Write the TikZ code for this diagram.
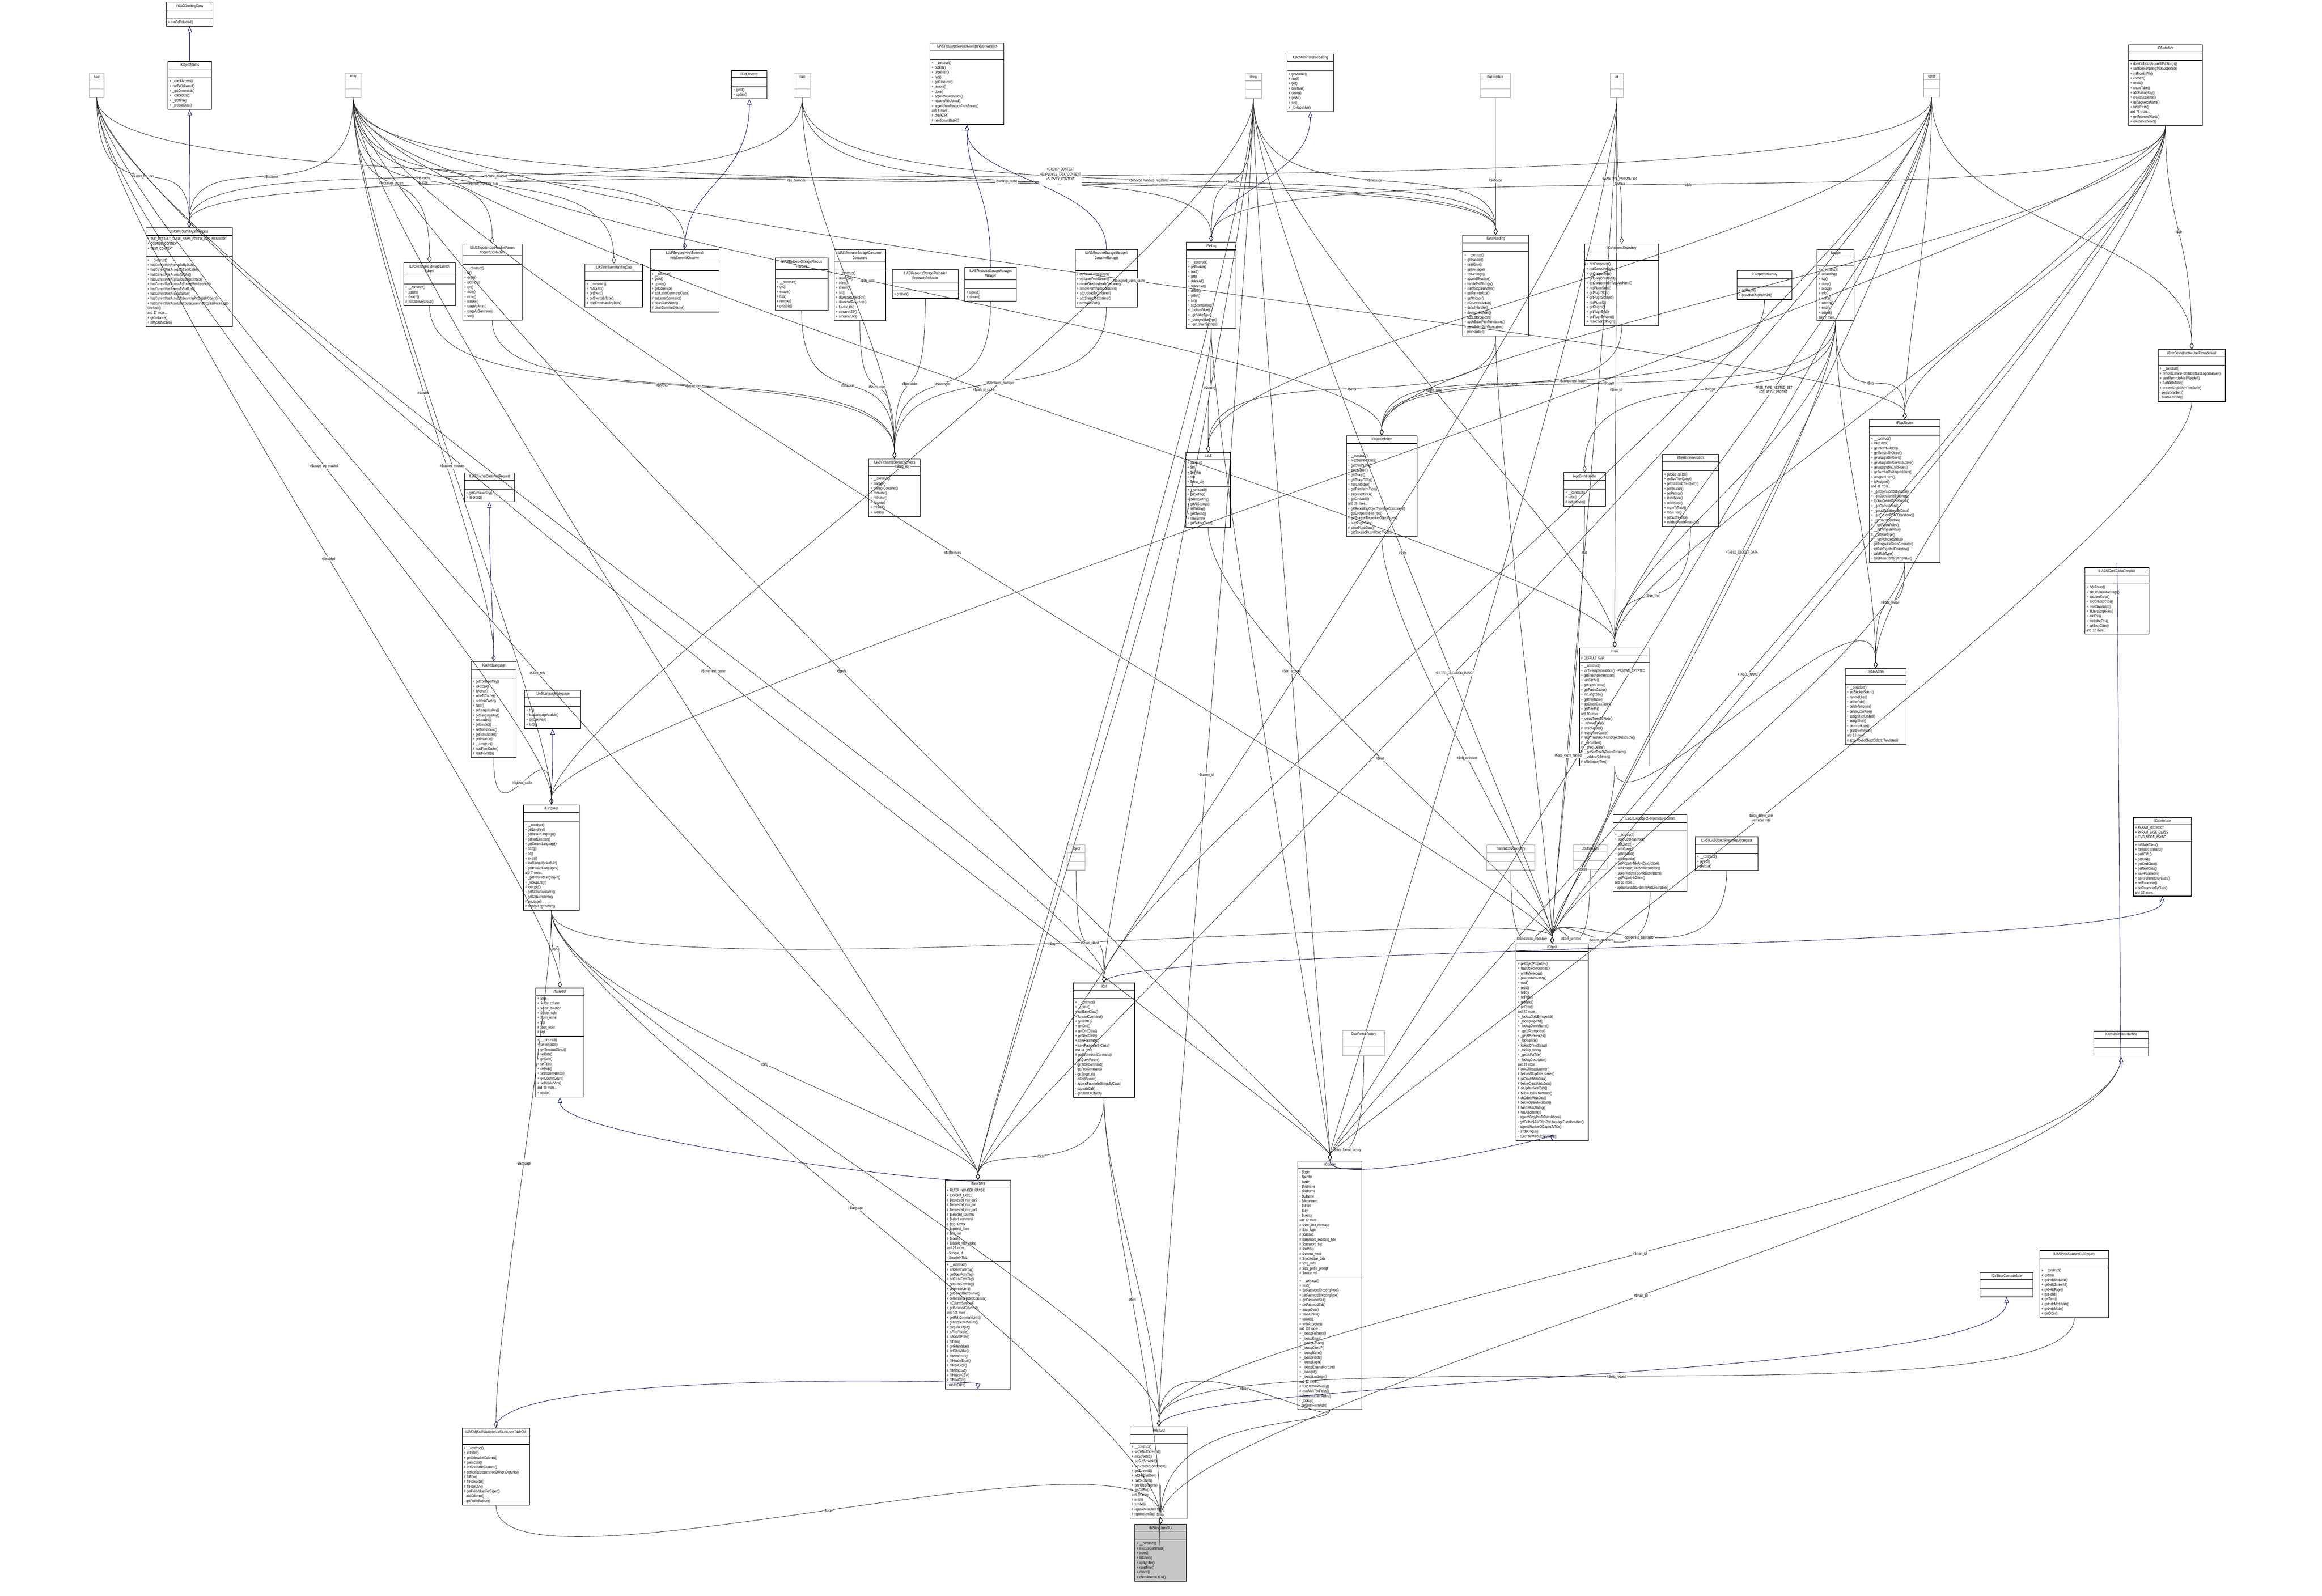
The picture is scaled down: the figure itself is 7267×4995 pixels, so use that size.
\documentclass[tikz,border=0pt]{standalone}
\usepackage{fontspec}
\usetikzlibrary{shapes.multipart,arrows.meta}
\newfontfamily\dxfont{Liberation Sans}[FakeStretch=0.7]
\newcommand\bsl{\textbackslash\allowbreak}

\tikzset{
  cls/.style={rectangle split, rectangle split parts=3, draw, line width=0.5pt,
    anchor=north west, text width=#1, align=left, inner sep=1.5pt,
    font=\dxfont\fontsize{3.6}{4.27}\selectfont},
  typ/.style={cls=#1, draw=gray!60},
  cur/.style={cls=#1, rectangle split part fill={gray!45,gray!45,gray!45}},
  agg/.style={draw=gray!30!black, line width=0.35pt, -{Diamond[open,length=6pt,width=3.5pt]}},
  inh/.style={draw=blue!40!black, line width=0.35pt, -{Triangle[open,length=5pt,width=4pt]}},
  lbl/.style={font=\dxfont\fontsize{3.6}{4.27}\selectfont, align=center, fill=white, inner sep=0.5pt}
}

\begin{document}
\begin{tikzpicture}[x=0.01cm,y=-0.01cm]
\useasboundingbox[fill=white] (0,0) rectangle (7267,4995);

% types on top
\node[typ=0.35cm] (bool) at (279,228) {\centering bool\par \nodepart{two}\strut \nodepart{three}\strut};
\node[typ=0.4cm] (array) at (1079,228) {\centering array\par \nodepart{two}\strut \nodepart{three}\strut};
\node[typ=0.4cm] (static) at (2484,228) {\centering static\par \nodepart{two}\strut \nodepart{three}\strut};
\node[typ=0.4cm] (string) at (3896,228) {\centering string\par \nodepart{two}\strut \nodepart{three}\strut};
\node[typ=0.85cm] (runif) at (4631,228) {\centering RunInterface\par \nodepart{two}\strut \nodepart{three}\strut};
\node[typ=0.3cm] (int) at (5039,228) {\centering int\par \nodepart{two}\strut \nodepart{three}\strut};
\node[typ=0.4cm] (const) at (6019,228) {\centering const\par \nodepart{two}\strut \nodepart{three}\strut};
\node[typ=0.45cm] (object) at (3339,2644) {\centering object\par \nodepart{two}\strut \nodepart{three}\strut};
\node[typ=1.4cm] (transrepo) at (4652,2644) {\centering TranslationsRepository\par \nodepart{two}\strut \nodepart{three}\strut};
\node[typ=0.95cm] (lom) at (4923,2644) {\centering LOMServices\par \nodepart{two}\strut \nodepart{three}\strut};
\node[typ=1.2cm] (datefac) at (4202,3225) {\centering DateFormatFactory\par \nodepart{two}\strut \nodepart{three}\strut};

% classes
\node[cls=1.35cm] (wac) at (520,6) {\centering ilWACCheckingClass\par \nodepart{two}\strut \nodepart{three} + canBeDelivered()};
\node[cls=1.25cm] (objacc) at (525,191) {\centering ilObjectAccess\par \nodepart{two}\strut \nodepart{three}
 + \_checkAccess()\\ + canBeDelivered()\\ + \_getCommands()\\ + \_checkGoto()\\ + \_isOffline()\\ + \_preloadData()};
\node[cls=1.0cm] (ctrlobs) at (2289,220) {\centering ilCtrlObserver\par \nodepart{two}\strut \nodepart{three} + getId()\\ + update()};
\node[cls=2.2cm] (basemgr) at (2910,133) {\centering ILIAS\bsl ResourceStorage\bsl Manager\bsl BaseManager\par \nodepart{two}\strut \nodepart{three}
 + \_\_construct()\\ + publish()\\ + unpublish()\\ + find()\\ + getResource()\\ + remove()\\ + clone()\\ + appendNewRevision()\\ + replaceWithUpload()\\ + appendNewRevisionFromStream()\\ and 8 more...\\ \# checkZIP()\\ \# newStreamBased()};
\node[cls=1.35cm] (admset) at (4027,168) {\centering ILIAS\bsl Administration\bsl Setting\par \nodepart{two}\strut \nodepart{three}
 + getModule()\\ + read()\\ + get()\\ + deleteAll()\\ + delete()\\ + getAll()\\ + set()\\ + \_lookupValue()};
\node[cls=2.2cm] (dbif) at (6661,139) {\centering ilDBInterface\par \nodepart{two}\strut \nodepart{three}
 + doesCollationSupportMB4Strings()\\ + sanitizeMB4StringIfNotSupported()\\ + initFromIniFile()\\ + connect()\\ + nextId()\\ + createTable()\\ + addPrimaryKey()\\ + createSequence()\\ + getSequenceName()\\ + tableExists()\\ and 78 more...\\ + getReservedWords()\\ + isReservedWord()};

\node[cls=2.6cm] (mystaff) at (456,712) {\centering ILIAS\bsl MyStaff\bsl ilMyStaffAccess\par \nodepart{two}
 + TMP\_DEFAULT\_TABLE\_NAME\_PREFIX\_CRS\_MEMBERS\\ + COURSE\_CONTEXT\\ + TEST\_CONTEXT\\ ... \nodepart{three}
 + \_\_construct()\\ + hasCurrentUserAccessToMyStaff()\\ + hasCurrentUserAccessToCertificates()\\ + hasCurrentUserAccessToTalks()\\ + hasCurrentUserAccessToCompetences()\\ + hasCurrentUserAccessToCourseMemberships()\\ + hasCurrentUserAccessToStaffList()\\ + hasCurrentUserAccessToUser()\\ + hasCurrentUserAccessToLearningProgressInObject()\\ + hasCurrentUserAccessToCourseLearningProgressForAtLeastOneUser()\\ and 17 more...\\ + getInstance()\\ + isMyStaffActive()};
\node[cls=1.5cm] (evsubj) at (1263,821) {\centering ILIAS\bsl ResourceStorage\bsl Events\bsl Subject\par \nodepart{two}\strut \nodepart{three}
 + \_\_construct()\\ + attach()\\ + detach()\\ \# initObserverGroup()};
\node[cls=1.75cm] (nodecoll) at (1447,763) {\centering ILIAS\bsl Export\bsl ImportHandler\bsl Parser\bsl NodeInfo\bsl Collection\par \nodepart{two}\strut \nodepart{three}
 + \_\_construct()\\ + id()\\ + exists()\\ + idOrNull()\\ + get()\\ + store()\\ + clone()\\ + remove()\\ + rangeAsArray()\\ + rangeAsGenerator()\\ + sort()};
\node[cls=1.7cm] (evdata) at (1830,825) {\centering ILIAS\bsl Init\bsl EventHandlingData\par \nodepart{two}\strut \nodepart{three}
 + \_\_construct()\\ + hasEvent()\\ + getEvent()\\ + getEventsByType()\\ \# readEventHandlingData()};
\node[cls=2.05cm] (helpobs) at (2034,780) {\centering ILIAS\bsl Services\bsl Help\bsl ScreenId\bsl HelpScreenIdObserver\par \nodepart{two}\strut \nodepart{three}
 + \_\_construct()\\ + getId()\\ + update()\\ + getScreenId()\\ \# addLatestCommandClass()\\ \# setLatestCommand()\\ \# cleanClassName()\\ \# cleanCommandName()};
\node[cls=1.55cm] (flav) at (2425,807) {\centering ILIAS\bsl ResourceStorage\bsl Flavour\bsl Flavours\par \nodepart{two}\strut \nodepart{three}
 + \_\_construct()\\ + get()\\ + ensure()\\ + has()\\ + remove()\\ + possible()};
\node[cls=1.5cm] (cons) at (2610,780) {\centering ILIAS\bsl ResourceStorage\bsl Consumer\bsl Consumers\par \nodepart{two}\strut \nodepart{three}
 + \_\_construct()\\ + download()\\ + inline()\\ + stream()\\ + src()\\ + downloadCollection()\\ + downloadResources()\\ + flavourUrls()\\ + containerZIP()\\ + containerURI()};
\node[cls=1.95cm] (prel) at (2792,843) {\centering ILIAS\bsl ResourceStorage\bsl Preloader\bsl RepositoryPreloader\par \nodepart{two}\strut \nodepart{three} + preload()};
\node[cls=1.5cm] (mgr) at (3019,836) {\centering ILIAS\bsl ResourceStorage\bsl Manager\bsl Manager\par \nodepart{two}\strut \nodepart{three} + upload()\\ + stream()};
\node[cls=1.85cm] (contmgr) at (3364,780) {\centering ILIAS\bsl ResourceStorage\bsl Manager\bsl ContainerManager\par \nodepart{two}\strut \nodepart{three}
 + containerFromUpload()\\ + containerFromStream()\\ + createDirectoryInsideContainer()\\ + removePathInsideContainer()\\ + addUploadToContainer()\\ + addStreamToContainer()\\ \# normalizePath()};
\node[cls=1.45cm] (ilset) at (3712,757) {\centering ilSetting\par \nodepart{two}\strut \nodepart{three}
 + \_\_construct()\\ + getModule()\\ + read()\\ + get()\\ + deleteAll()\\ + deleteLike()\\ + delete()\\ + getAll()\\ + set()\\ + setScormDebug()\\ + \_lookupValue()\\ + \_getValueType()\\ + \_changeValueType()\\ + \_getLongerSettings()};
\node[cls=1.95cm] (errh) at (4577,735) {\centering ilErrorHandling\par \nodepart{two}\strut \nodepart{three}
 + \_\_construct()\\ + getHandler()\\ + raiseError()\\ + getMessage()\\ + setMessage()\\ + appendMessage()\\ + handlePreWhoops()\\ + initWhoopsHandlers()\\ + getRunInterface()\\ + getWhoops()\\ + isDevmodeActive()\\ + defaultHandler()\\ + devmodeHandler()\\ + addEditorSupport()\\ + applyEditorPathTranslations()\\ + parseEditorPathTranslation()\\ - errorHandler()};
\node[cls=2.2cm] (comprepo) at (4959,763) {\centering ilComponentRepository\par \nodepart{two}\strut \nodepart{three}
 + hasComponent()\\ + hasComponentId()\\ + getComponents()\\ + getComponentById()\\ + getComponentByTypeAndName()\\ + hasPluginSlotId()\\ + getPluginSlots()\\ + getPluginSlotById()\\ + hasPluginId()\\ + getPlugins()\\ + getPluginById()\\ + getPluginByName()\\ + hasActivatedPlugin()};
\node[cls=1.6cm] (compfac) at (5436,846) {\centering ilComponentFactory\par \nodepart{two}\strut \nodepart{three} + getPlugin()\\ + getActivePluginsInSlot()};
\node[cls=1.05cm] (logger) at (5686,780) {\centering ilLogger\par \nodepart{two}\strut \nodepart{three}
 + \_\_construct()\\ + isHandling()\\ + log()\\ + dump()\\ + debug()\\ + info()\\ + notice()\\ + warning()\\ + error()\\ + critical()\\ and 7 more...};
\node[cls=2.0cm] (crondel) at (6753,1093) {\centering ilCronDeleteInactiveUser\-ReminderMail\par \nodepart{two}\strut \nodepart{three}
 + \_\_construct()\\ + removeEntriesFromTableIfLastLoginIsNewer()\\ + sendReminderMailIfNeeded()\\ + flushDataTable()\\ + removeSingleUserFromTable()\\ - persistMailSent()\\ - sendReminder()};

\node[cls=1.45cm] (request) at (1453,1479) {\centering ILIAS\bsl Cache\bsl Container\bsl Request\par \nodepart{two}\strut \nodepart{three} + getContainerKey()\\ + isForced()};
\node[cls=1.5cm] (services) at (2718,1435) {\centering ILIAS\bsl ResourceStorage\bsl Services\par \nodepart{two}\strut \nodepart{three}
 + \_\_construct()\\ + manage()\\ + manageContainer()\\ + consume()\\ + collection()\\ + flavours()\\ + preload()\\ + events()};
\node[cls=1.3cm] (ilias) at (3710,1415) {\centering ILIAS\par \nodepart{two} + \$account\\ + \$ini\\ + \$ini\_ilias\\ + \$db\\ + \$error\_obj \nodepart{three}
 + \_\_construct()\\ + getSetting()\\ + deleteSetting()\\ + getAllSettings()\\ + setSetting()\\ + getClientId()\\ + raiseError()\\ + getSettingObject()};
\node[cls=2.1cm] (objdef) at (4213,1363) {\centering ilObjectDefinition\par \nodepart{two}\strut \nodepart{three}
 + \_\_construct()\\ + readDefinitionData()\\ + getClassName()\\ + getLocation()\\ + getGroup()\\ + getGroupOfObj()\\ + hasCheckbox()\\ + getTranslationType()\\ + stopInheritance()\\ + getDevMode()\\ and 39 more...\\ + getRepositoryObjectTypesForComponent()\\ + getComponentForType()\\ + getGroupedRepositoryObjectTypes()\\ + readPluginData()\\ \# parsePluginData()\\ + getGroupedPluginObjectTypes()};
\node[cls=1.2cm] (appev) at (4893,1478) {\centering ilAppEventHandler\par \nodepart{two}\strut \nodepart{three} + \_\_construct()\\ + raise()\\ \# initListeners()};
\node[cls=1.65cm] (treeimpl) at (5202,1421) {\centering ilTreeImplementation\par \nodepart{two}\strut \nodepart{three}
 + getSubTreeIds()\\ + getSubTreeQuery()\\ + getTrashSubTreeQuery()\\ + getRelation()\\ + getPathIds()\\ + insertNode()\\ + deleteTree()\\ + moveToTrash()\\ + moveTree()\\ + getSubtreeInfo()\\ + validateParentRelations()};
\node[cls=2.1cm] (rbacrev) at (5850,1312) {\centering ilRbacReview\par \nodepart{two}\strut \nodepart{three}
 + \_\_construct()\\ + roleExists()\\ + getParentRoleIds()\\ + getRoleListByObject()\\ + getAssignableRoles()\\ + getAssignableRolesInSubtree()\\ + getAssignableChildRoles()\\ + getNumberOfAssignedUsers()\\ + assignedUsers()\\ + isAssigned()\\ and 41 more...\\ + \_getOperationIdsByName()\\ + \_getOperationIdByName()\\ + lookupCreateOperationIds()\\ + \_getOperationList()\\ + \_groupOperationsByClass()\\ + \_getCustomRBACOperationId()\\ + \_isRBACOperation()\\ \# \_\_getParentRoles()\\ \# \_\_setTemplateFilter()\\ \# \_\_setRoleType()\\ \# \_\_setProtectedStatus()\\ - getAssignableRolesGenerator()\\ - setRoleTypeAndProtection()\\ - buildRoleType()\\ - buildProtectionByStringValue()};
\node[cls=1.9cm] (globtpl) at (6524,1775) {\centering ILIAS\bsl UICore\bsl GlobalTemplate\par \nodepart{two}\strut \nodepart{three}
 + hideFooter()\\ + setOnScreenMessage()\\ + addJavaScript()\\ + addOnLoadCode()\\ + resetJavascript()\\ + fillJavaScriptFiles()\\ + addCss()\\ + addInlineCss()\\ + setBodyClass()\\ and 32 more...};

\node[cls=1.3cm] (cachedlang) at (1474,2070) {\centering ilCachedLanguage\par \nodepart{two}\strut \nodepart{three}
 + getContainerKey()\\ + isForced()\\ + isActive()\\ + writeToCache()\\ + deleteInCache()\\ + flush()\\ + setLanguageKey()\\ + getLanguageKey()\\ + setLoaded()\\ + getLoaded()\\ + setTranslations()\\ + getTranslations()\\ + getInstance()\\ \# \_\_construct()\\ \# readFromCache()\\ \# readFromDB()};
\node[cls=1.65cm] (langif) at (1641,2159) {\centering ILIAS\bsl Language\bsl Language\par \nodepart{two}\strut \nodepart{three} + txt()\\ + loadLanguageModule()\\ + getLangKey()\\ + toJS()};
\node[cls=1.65cm] (ilang) at (1637,2518) {\centering ilLanguage\par \nodepart{two}\strut \nodepart{three}
 + \_\_construct()\\ + getLangKey()\\ + getDefaultLanguage()\\ + getTextDirection()\\ + getContentLanguage()\\ + txtlng()\\ + txt()\\ + exists()\\ + loadLanguageModule()\\ + getInstalledLanguages()\\ and 7 more...\\ + \_getInstalledLanguages()\\ + \_lookupEntry()\\ + lookupId()\\ + getFallbackInstance()\\ + getGlobalInstance()\\ \# logUsage()\\ \# isUsageLogEnabled()};
\node[cls=2.1cm] (tree) at (4942,2027) {\centering ilTree\par \nodepart{two} \# DEFAULT\_GAP \nodepart{three}
 + \_\_construct()\\ + initTreeImplementation()\\ + getTreeImplementation()\\ + useCache()\\ + getDepthCache()\\ + getParentCache()\\ + initLangCode()\\ + getTreeTable()\\ + getObjectDataTable()\\ + getTreePk()\\ and 80 more...\\ + lookupTreesForNode()\\ + \_removeEntry()\\ \# isCacheUsed()\\ \# resetInTreeCache()\\ \# fetchTranslationFromObjectDataCache()\\ \# \_\_renumber()\\ \# \_\_checkDelete()\\ \# \_\_getSubTreeByParentRelation()\\ \# \_\_validateSubtrees()\\ \# isRepositoryTree()};
\node[cls=1.8cm] (rbacadm) at (5774,2091) {\centering ilRbacAdmin\par \nodepart{two}\strut \nodepart{three}
 + \_\_construct()\\ + setBlockedStatus()\\ + removeUser()\\ + deleteRole()\\ + deleteTemplate()\\ + deleteLocalRole()\\ + assignUserLimited()\\ + assignUser()\\ + deassignUser()\\ + grantPermission()\\ and 18 more...\\ \# applyMovedObjectDidacticTemplates()};
\node[cls=2.2cm] (props) at (5048,2549) {\centering ILIAS\bsl ILIASObject\bsl Properties\bsl Properties\par \nodepart{two}\strut \nodepart{three}
 + \_\_construct()\\ + storeCoreProperties()\\ + getOwner()\\ + withOwner()\\ + getImportId()\\ + withImportId()\\ + getPropertyTitleAndDescription()\\ + withPropertyTitleAndDescription()\\ + storePropertyTitleAndDescription()\\ + getPropertyIsOnline()\\ and 16 more...\\ - updateMetadataForTitleAndDescription()};
\node[cls=1.85cm] (aggr) at (5305,2618) {\centering ILIAS\bsl ILIASObject\bsl Properties\bsl Aggregator\par \nodepart{two}\strut \nodepart{three} + \_\_construct()\\ + getFor()\\ + preload()};
\node[cls=1.7cm] (ctrlif) at (6676,2557) {\centering ilCtrlInterface\par \nodepart{two} + PARAM\_REDIRECT\\ + PARAM\_BASE\_CLASS\\ + CMD\_MODE\_ASYNC \nodepart{three}
 + callBaseClass()\\ + forwardCommand()\\ + getHTML()\\ + getCmd()\\ + getCmdClass()\\ + getNextClass()\\ + saveParameter()\\ + saveParameterByClass()\\ + setParameter()\\ + setParameterByClass()\\ and 32 more...};

\node[cls=1.4cm] (tablegui) at (1676,3092) {\centering ilTableGUI\par \nodepart{two} + \$title\\ + \$order\_column\\ + \$order\_direction\\ + \$footer\_style\\ + \$form\_name\\ + \$tpl\\ \# \$sort\_order\\ \# \$tpl \nodepart{three}
 + \_\_construct()\\ + setTemplate()\\ + getTemplateObject()\\ + setData()\\ + getData()\\ + setTitle()\\ + setHelp()\\ + setHeaderNames()\\ + getColumnCount()\\ + setHeaderVars()\\ and 29 more...\\ + render()};
\node[cls=1.8cm] (ctrl) at (3359,3076) {\centering ilCtrl\par \nodepart{two}\strut \nodepart{three}
 + \_\_construct()\\ + \_\_clone()\\ + callBaseClass()\\ + forwardCommand()\\ + getHTML()\\ + getCmd()\\ + getCmdClass()\\ + getNextClass()\\ + saveParameter()\\ + saveParameterByClass()\\ and 34 more...\\ \# getDeterminedCommand()\\ - getQueryParam()\\ - getTableCommand()\\ - getPostCommand()\\ - getTargetUrl()\\ - isCmdSecure()\\ - appendParameterStringsByClass()\\ - populateCall()\\ - getClassByObject()};
\node[cls=2.15cm] (ilobject) at (4744,2953) {\centering ilObject\par \nodepart{two}\strut \nodepart{three}
 + getObjectProperties()\\ + flushObjectProperties()\\ + withReferences()\\ + processAutoRating()\\ + read()\\ + getId()\\ + setId()\\ + setRefId()\\ + getRefId()\\ + getType()\\ and 40 more...\\ + \_lookupObjIdByImportId()\\ + \_lookupImportId()\\ + \_lookupOwnerName()\\ + \_getIdForImportId()\\ + \_getAllReferences()\\ + \_lookupTitle()\\ + lookupOfflineStatus()\\ + \_lookupOwner()\\ + \_getIdsForTitle()\\ + \_lookupDescription()\\ and 27 more...\\ \# doMDUpdateListener()\\ \# beforeMDUpdateListener()\\ \# doCreateMetaData()\\ \# beforeCreateMetaData()\\ \# doUpdateMetaData()\\ \# beforeUpdateMetaData()\\ \# doDeleteMetaData()\\ \# beforeDeleteMetaData()\\ \# handleAutoRating()\\ \# hasAutoRating()\\ - appendCopyInfoToTranslations()\\ - getCallbackForTitlesPerLanguage\-Transformation()\\ - appendNumberOfCopiesToTitle()\\ - isTitleUnique()\\ - buildTitleWithoutCopySuffix()};
\node[cls=1.6cm] (gtplif) at (6552,3226) {\centering ilGlobalTemplateInterface\par \nodepart{two}\strut \nodepart{three}\strut};
\node[cls=1.95cm] (table2) at (2957,3693) {\centering ilTable2GUI\par \nodepart{two}
 + FILTER\_NUMBER\_RANGE\\ + EXPORT\_EXCEL\\ \# \$requested\_nav\_par2\\ \# \$requested\_nav\_par\\ \# \$requested\_nav\_par1\\ \# \$selected\_columns\\ \# \$select\_command\\ \# \$top\_anchor\\ \# \$optional\_filters\\ \# \$ext\_sort\\ \# \$context\\ \# \$disable\_filter\_hiding\\ and 29 more...\\ - \$unique\_id\\ - \$headerHTML \nodepart{three}
 + \_\_construct()\\ + setOpenFormTag()\\ + getOpenFormTag()\\ + setCloseFormTag()\\ + getCloseFormTag()\\ + determineLimit()\\ + getSelectableColumns()\\ + determineSelectedColumns()\\ + isColumnSelected()\\ + getSelectedColumns()\\ and 108 more...\\ + getMultiCommandLimit()\\ \# getRequestedValues()\\ \# prepareOutput()\\ \# isFilterVisible()\\ \# isAdvMDFilter()\\ \# fillRow()\\ \# getFilterValue()\\ \# setFilterValue()\\ \# fillMetaExcel()\\ \# fillHeaderExcel()\\ \# fillRowExcel()\\ \# fillMetaCSV()\\ \# fillHeaderCSV()\\ \# fillRowCSV()\\ - renderFilter()};
\node[cls=1.9cm] (objuser) at (4061,3633) {\centering ilObjUser\par \nodepart{two}
 - \$login\\ - \$gender\\ - \$utitle\\ - \$firstname\\ - \$lastname\\ - \$fullname\\ - \$department\\ - \$street\\ - \$city\\ - \$country\\ and 12 more...\\ \# \$time\_limit\_message\\ \# \$last\_login\\ \# \$passwd\\ \# \$password\_encoding\_type\\ \# \$password\_salt\\ \# \$birthday\\ \# \$second\_email\\ \# \$inactivation\_date\\ \# \$org\_units\\ \# \$last\_profile\_prompt\\ \# \$avatar\_rid \nodepart{three}
 + \_\_construct()\\ + read()\\ + getPasswordEncodingType()\\ + setPasswordEncodingType()\\ + getPasswordSalt()\\ + setPasswordSalt()\\ + assignData()\\ + saveAsNew()\\ + update()\\ + writeAccepted()\\ and 118 more...\\ + \_lookupFullname()\\ + \_lookupEmail()\\ + \_lookupGender()\\ + \_lookupClientIP()\\ + \_lookupName()\\ + \_lookupFields()\\ + \_lookupLogin()\\ + \_lookupExternalAccount()\\ + \_lookupId()\\ + \_lookupLastLogin()\\ and 62 more...\\ \# buildTextFromArray()\\ \# readMultiTextFields()\\ \# deleteMultiTextFields()\\ - \_lookup()\\ - getLoginFromAuth()};
\node[cls=1.55cm] (cbci) at (6196,3982) {\centering ilCtrlBaseClassInterface\par \nodepart{two}\strut \nodepart{three}\strut};
\node[cls=2.05cm] (helpreq) at (6383,3913) {\centering ILIAS\bsl Help\bsl StandardGUIRequest\par \nodepart{two}\strut \nodepart{three}
 + \_\_construct()\\ + getIds()\\ + getHelpModuleId()\\ + getHelpScreenId()\\ + getHelpPage()\\ + getRefId()\\ + getTerm()\\ + getHelpModuleIds()\\ + getHelpMode()\\ + getOrder()};
\node[cls=2.0cm] (mstable) at (1446,4469) {\centering ILIAS\bsl MyStaff\bsl ListUsers\bsl ilMStListUsersTableGUI\par \nodepart{two}\strut \nodepart{three}
 + \_\_construct()\\ + initFilter()\\ + getSelectableColumns()\\ \# parseData()\\ \# initSelectableColumns()\\ \# getTextRepresentationOfUsersOrgUnits()\\ \# fillRow()\\ \# fillRowExcel()\\ \# fillRowCSV()\\ \# getFieldValuesForExport()\\ - addColumns()\\ - getProfileBackUrl()};
\node[cls=1.7cm] (helpgui) at (3536,4465) {\centering ilHelpGUI\par \nodepart{two}\strut \nodepart{three}
 + \_\_construct()\\ + setDefaultScreenId()\\ + setScreenId()\\ + setSubScreenId()\\ + setScreenIdComponent()\\ + getScreenId()\\ + addHelpSection()\\ + hasSections()\\ + getHelpSections()\\ + setCtrlPar()\\ and 18 more...\\ \# initUI()\\ \# symbol()\\ \# replaceMenuItemTags()\\ \# replaceItemTag()};
\node[cur=1.5cm] (mstgui) at (3551,4770) {\centering ilMStListUsersGUI\par \nodepart{two}\strut \nodepart{three}
 + \_\_construct()\\ + executeCommand()\\ + index()\\ + listUsers()\\ + applyFilter()\\ + resetFilter()\\ + cancel()\\ \# checkAccessOrFail()};

% inheritance
\foreach \c/\p in {objacc/wac, mystaff/objacc, helpobs/ctrlobs, mgr/basemgr, contmgr/basemgr,
    ilset/admset, cachedlang/request, ilang/langif, table2/tablegui, mstable/table2,
    ctrl/ctrlif, globtpl/gtplif, objuser/ilobject, helpgui/cbci}
  \draw[inh] (\c) .. controls +(0,-300) and +(0,300) .. (\p);

% members
\foreach \a/\b/\l in {
    bool/mystaff/{\#\$users\_for\_user}, bool/ilang/{\#\$usage\_log\_enabled}, bool/tablegui/{+\$enabled},
    bool/table2/{\#\$filter\_cols}, bool/errh/{\#\$is\_devmode}, bool/objuser/{\#\$time\_limit\_owner}, bool/ctrl/{},
    array/mystaff/{\#\$instance}, array/evsubj/{\#\$observer\_groups}, array/nodecoll/{-\$rid\_cache\\-\$cache},
    array/evdata/{\#\$event\_handling\_data}, array/helpobs/{-\$map}, array/cachedlang/{\#\$loaded},
    array/ilang/{\#\$cached\_modules}, array/objdef/{\#\$obj\_data}, array/rbacrev/{\#\$assigned\_users\_cache},
    array/tree/{\#\$path\_id\_cache}, array/table2/{}, array/errh/{}, array/ilobject/{\#\$references},
    array/objuser/{+\$prefs}, static/mystaff/{\#\$cache\_disabled}, static/services/{},
    static/ilset/{-\$settings\_cache}, static/errh/{\#\$whoops\_handlers\_registered},
    string/ilset/{+\$module}, string/errh/{\#\$message}, string/ilang/{\#\$lang\_key}, string/ctrl/{},
    string/tree/{\#\$lang\_code}, string/objuser/{\#\$ext\_account}, string/table2/{},
    string/ilobject/{\#\$title}, string/helpgui/{-\$screen\_id},
    int/comprepo/{-SENSITIVE\_PARAMETER\\\_NAMES}, int/ilobject/{\#\$id}, int/objuser/{},
    int/tree/{\#\$tree\_id}, int/table2/{},
    const/ilobject/{+TABLE\_OBJECT\_DATA}, const/tree/{+TREE\_TYPE\_NESTED\_SET\\+RELATION\_PARENT}, const/rbacrev/{},
    const/table2/{+FILTER\_DURATION\_RANGE}, const/objuser/{+PASSWD\_CRYPTED}, const/crondel/{},
    const/ctrl/{}, const/ilias/{}, const/mystaff/{+GROUP\_CONTEXT\\+EMPLOYEE\_TALK\_CONTEXT\\+SURVEY\_CONTEXT\\...},
    dbif/ilset/{\#\$db}, dbif/ilobject/{}, dbif/ilang/{}, dbif/rbacrev/{}, dbif/tree/{},
    dbif/objdef/{}, dbif/crondel/{\#\$db}, dbif/rbacadm/{}, dbif/objuser/{+TABLE\_NAME},
    flav/services/{\#\$flavours}, cons/services/{\#\$consumers}, prel/services/{\#\$preloader},
    mgr/services/{\#\$manager}, contmgr/services/{\#\$container\_manager}, evsubj/services/{\#\$events},
    nodecoll/services/{\#\$collections}, runif/errh/{\#\$whoops},
    comprepo/objdef/{\#\$component\_repository}, compfac/objdef/{\#\$component\_factory},
    logger/objdef/{\#\$logger}, logger/tree/{}, logger/appev/{\#\$logger}, logger/rbacrev/{\#\$log},
    logger/rbacadm/{}, logger/ilobject/{},
    ilset/ilias/{\#\$setting}, ilset/objuser/{}, ilset/table2/{},
    errh/ilias/{\#\$error}, errh/ilobject/{}, appev/ilobject/{\#\$app\_event\_handler},
    treeimpl/tree/{-\$tree\_impl}, tree/ilobject/{\#\$tree}, tree/rbacadm/{},
    rbacrev/rbacadm/{\#\$rbac\_review}, rbacrev/ilobject/{}, objdef/ilobject/{\#\$obj\_definition},
    cachedlang/ilang/{\#\$global\_cache}, ilang/tablegui/{\#\$lng}, ilang/table2/{\#\$lng},
    ilang/mstable/{-\$language}, ilang/helpgui/{}, ilang/mstgui/{-\$language}, ilang/ilobject/{\#\$lng},
    object/ctrl/{\#\$exec\_object}, ctrl/table2/{\#\$ctrl}, ctrl/helpgui/{}, ctrl/mstgui/{\#\$ctrl},
    transrepo/ilobject/{-\$translations\_repository}, lom/ilobject/{\#\$lom\_services},
    props/ilobject/{-\$object\_properties}, aggr/ilobject/{-\$properties\_aggregator},
    datefac/objuser/{\#\$date\_format\_factory}, objuser/helpgui/{\#\$user}, objuser/mstgui/{},
    helpreq/helpgui/{\#\$help\_request}, gtplif/helpgui/{\#\$main\_tpl}, gtplif/mstgui/{\#\$main\_tpl},
    mstable/mstgui/{-\$table}, helpgui/mstgui/{-\$help}, ilias/ilobject/{\#\$ilias},
    crondel/objuser/{-\$cron\_delete\_user\\\_reminder\_mail}}
  \draw[agg] (\a) .. controls +(0,450) and +(0,-450) .. (\b) node[lbl,pos=0.5] {\l};

\end{tikzpicture}
\end{document}
